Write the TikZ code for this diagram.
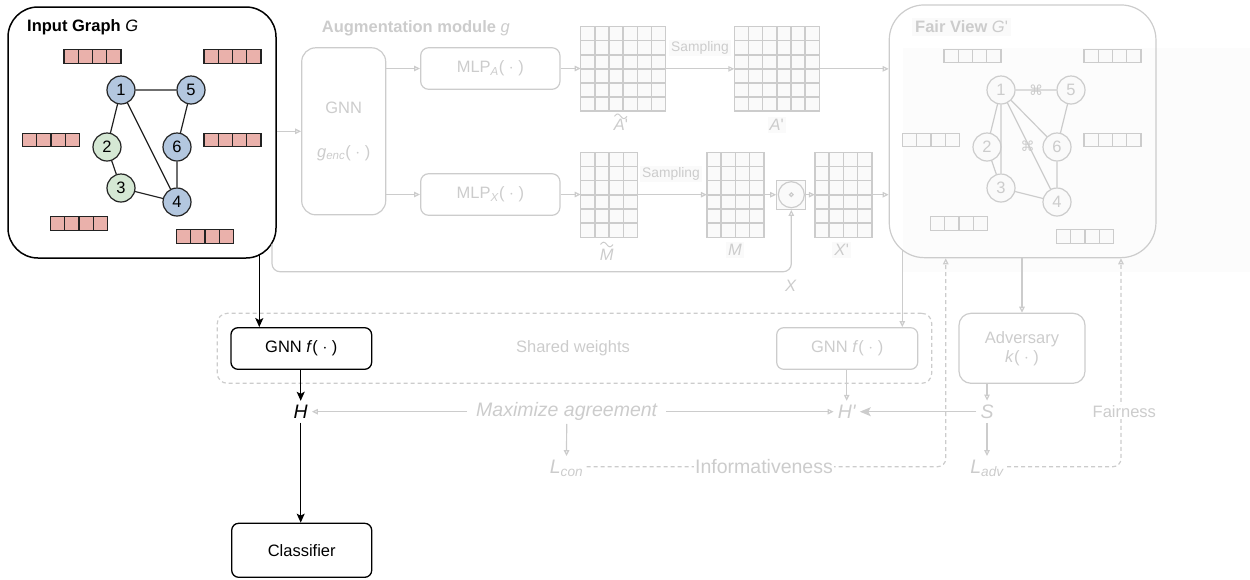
\documentclass[tikz,border=0pt]{standalone}
\usepackage{fontspec}
\setmainfont{Liberation Sans}
\newfontfamily\symfont{DejaVu Sans}
\usetikzlibrary{arrows.meta,calc}
\definecolor{fade}{HTML}{CCCCCC}
\definecolor{faint}{HTML}{FAFAFA}
\definecolor{faintbg}{HTML}{FCFCFC}
\definecolor{nodeblue}{HTML}{B3C7DF}
\definecolor{nodegreen}{HTML}{D5E8D4}
\definecolor{featred}{HTML}{EAB1AB}
\definecolor{ink}{HTML}{222222}
\newcommand\cellgrid[4]{%
  \foreach \k in {1,...,5}{%
    \ifnum\k<#2\relax \draw[#4] ($(#1.north west)!\k/#2!(#1.north east)$) -- ($(#1.south west)!\k/#2!(#1.south east)$);\fi
    \ifnum\k<#3\relax \draw[#4] ($(#1.north west)!\k/#3!(#1.south west)$) -- ($(#1.north east)!\k/#3!(#1.south east)$);\fi
  }}
\tikzset{
  fadeln/.style={draw=fade, line width=1.2pt},
  farr/.style={fadeln, -{Triangle[open, length=6pt, width=5.5pt]}},
  barr/.style={draw=black, line width=1.3pt, -{Stealth[length=9pt, width=8pt, inset=2pt]}},
  fdash/.style={fadeln, dash pattern=on 4pt off 3pt},
  fbox/.style={fadeln, rounded corners=8pt, text=fade, align=center, inner sep=0pt},
  bbox/.style={draw=black, line width=1.3pt, rounded corners=7pt, inner sep=0pt},
  matbox/.style={draw=fade, line width=1.5pt, fill=faint, inner sep=0pt, outer sep=0pt},
  matline/.style={draw=fade, line width=1.5pt},
  featbox/.style={draw=ink, line width=1.2pt, fill=featred, minimum width=57pt, minimum height=13.5pt, inner sep=0pt, outer sep=0pt},
  featline/.style={draw=ink, line width=1.2pt},
  ffeatbox/.style={featbox, draw=fade, fill=faint},
  ffeatline/.style={draw=fade, line width=1.2pt},
  gn/.style={circle, draw=ink, line width=1.2pt, minimum size=28pt, inner sep=0pt},
  fgn/.style={circle, draw=fade, line width=1.2pt, fill=faint, text=fade, minimum size=28pt, inner sep=0pt},
  gedge/.style={draw=ink, line width=1.2pt},
  fedge/.style={draw=fade, line width=1.2pt},
  big/.style={font=\fontsize{19.5}{22}\selectfont\itshape},
  small/.style={font=\fontsize{13.8}{16}\selectfont},
  ftxt/.style={text=fade, inner sep=2pt},
  cutmark/.style={text=fade, font=\symfont\fontsize{14}{14}\selectfont, inner sep=0pt},
}
\begin{document}
\begin{tikzpicture}[x=1pt, y=-1pt, font=\fontsize{16.5}{19}\selectfont]
\useasboundingbox (0,0) rectangle (1250,579);
\fill[faintbg] (903,47.7) rectangle (1250,271.7);

% ---------- Input graph ----------
\node[draw=black, line width=1.5pt, rounded corners=30pt, minimum width=268pt, minimum height=251pt, inner sep=0pt] (inG) at (142,132.5) {};
\node[anchor=west, inner sep=0pt] (inGt) at (27,27) {\textbf{Input Graph} \textit{G}};
\node[featbox] (b1) at (92.5,56.5) {}; \cellgrid{b1}{4}{1}{featline}
\node[featbox] (b2) at (232.5,56.5) {}; \cellgrid{b2}{4}{1}{featline}
\node[featbox] (b3) at (51,140) {}; \cellgrid{b3}{4}{1}{featline}
\node[featbox] (b4) at (232.5,140) {}; \cellgrid{b4}{4}{1}{featline}
\node[featbox] (b5) at (79,223.5) {}; \cellgrid{b5}{4}{1}{featline}
\node[featbox] (b6) at (205,236.5) {}; \cellgrid{b6}{4}{1}{featline}
\node[gn, fill=nodeblue] (n1) at (121,90) {1};
\node[gn, fill=nodeblue] (n5) at (191,90) {5};
\node[gn, fill=nodegreen] (n2) at (107,147) {2};
\node[gn, fill=nodeblue] (n6) at (177,147) {6};
\node[gn, fill=nodegreen] (n3) at (121,188) {3};
\node[gn, fill=nodeblue] (n4) at (177,202) {4};
\draw[gedge] (n1)--(n5) (n1)--(n2) (n1)--(n4) (n5)--(n6) (n6)--(n4) (n2)--(n3) (n3)--(n4);

% ---------- Augmentation module ----------
\node[anchor=west, text=fade, inner sep=0pt] (augt) at (321.7,28) {\textbf{Augmentation module} \textit{g}};
\node[fbox, rounded corners=14pt, minimum width=84pt, minimum height=167pt] (genc) at (343.7,131.3) {GNN\\[25pt]\textit{g}\textsubscript{\textit{enc}}( $\cdot$ )};
\node[fbox, minimum width=139.3pt, minimum height=41.6pt] (mlpa) at (490.3,68.5) {MLP\textsubscript{\textit{A}}( $\cdot$ )};
\node[fbox, minimum width=139.3pt, minimum height=41.6pt] (mlpx) at (490.3,194.5) {MLP\textsubscript{\textit{X}}( $\cdot$ )};

\node[matbox, minimum width=85pt, minimum height=84.5pt] (At) at (623.2,68.85) {}; \cellgrid{At}{6}{6}{matline}
\node[matbox, minimum width=85pt, minimum height=84.5pt] (Ap) at (776.8,68.85) {}; \cellgrid{Ap}{6}{6}{matline}
\node[matbox, minimum width=57pt, minimum height=85pt] (Mt) at (609.2,194.8) {}; \cellgrid{Mt}{4}{6}{matline}
\node[matbox, minimum width=57pt, minimum height=85pt] (Mm) at (735.3,194.8) {}; \cellgrid{Mm}{4}{6}{matline}
\node[matbox, minimum width=57pt, minimum height=85pt] (Xp) at (843.3,194.8) {}; \cellgrid{Xp}{4}{6}{matline}
\node[draw=fade, line width=1.2pt, fill=faint, minimum size=29pt, inner sep=0pt] (od) at (791.3,194.7) {};
\draw[fadeln] (od.center) circle[radius=13pt];
\draw[fadeln] (od.center) circle[radius=1.8pt];

\node[ftxt] (lAt) at (621,125) {\textit{A}\textquotesingle};
\draw[fade, line width=1pt] plot[domain=0:1, smooth, samples=13, variable=\t] ({614.5+12.5*\t},{116.3-2.3*sin(360*\t)});
\node[ftxt, fill=faint] (lAp) at (776.8,125) {\textit{A}\textquotesingle};
\node[ftxt] (lMt) at (606.7,255) {\textit{M}};
\draw[fade, line width=1pt] plot[domain=0:1, smooth, samples=13, variable=\t] ({600.5+12.5*\t},{244.5-2.3*sin(360*\t)});
\node[ftxt, fill=faint] (lM) at (735,250) {\textit{M}};
\node[ftxt, fill=faint] (lXp) at (841.7,250) {\textit{X}\textquotesingle};
\node[ftxt] (lX) at (791,286) {\textit{X}};
\node[ftxt, small, fill=faint] (s1) at (700,48) {Sampling};
\node[ftxt, small, fill=faint] (s2) at (671,174) {Sampling};

% ---------- Fair view ----------
\node[draw=fade, line width=1.2pt, rounded corners=35pt, minimum width=266.7pt, minimum height=252.7pt, inner sep=0pt] (fv) at (1022.6,131.3) {};
\node[anchor=west, text=fade, fill=faint, inner sep=3pt] (fvt) at (912,26.7) {\textbf{Fair View} \textit{G}\textquotesingle};
\node[ffeatbox] (c1) at (972.5,56) {}; \cellgrid{c1}{4}{1}{ffeatline}
\node[ffeatbox] (c2) at (1112.5,56) {}; \cellgrid{c2}{4}{1}{ffeatline}
\node[ffeatbox] (c3) at (931,140) {}; \cellgrid{c3}{4}{1}{ffeatline}
\node[ffeatbox] (c4) at (1112.5,140) {}; \cellgrid{c4}{4}{1}{ffeatline}
\node[ffeatbox] (c5) at (959,223.5) {}; \cellgrid{c5}{4}{1}{ffeatline}
\node[ffeatbox] (c6) at (1085,236.5) {}; \cellgrid{c6}{4}{1}{ffeatline}
\node[fgn] (f1) at (1001,90) {1};
\node[fgn] (f5) at (1071,90) {5};
\node[fgn] (f2) at (987,147) {2};
\node[fgn] (f6) at (1057,147) {6};
\node[fgn] (f3) at (1001,188) {3};
\node[fgn] (f4) at (1057,202) {4};
\draw[fedge] (f1)--(f5) (f1)--(f2) (f1)--(f3) (f1)--(f6) (f1)--(f4) (f5)--(f6) (f2)--(f3) (f6)--(f4) (f3)--(f4);
\node[cutmark] (k1) at ($(f1)!0.5!(f5)$) {⌘};
\node[cutmark] (k2) at (1027.5,146) {⌘};

% ---------- top connectors ----------
\draw[farr] (inG.east |- genc.west) -- (genc.west);
\draw[farr] (genc.east |- mlpa.west) -- (mlpa.west);
\draw[farr] (genc.east |- mlpx.west) -- (mlpx.west);
\draw[farr] (mlpa.east) -- (At.west |- mlpa.east);
\draw[farr] (mlpx.east) -- (Mt.west |- mlpx.east);
\draw[farr] (At.east) -- (Ap.west);
\draw[farr] (Mt.east |- od.west) -- (Mm.west |- od.west);
\draw[farr] (Mm.east |- od.west) -- (od.west);
\draw[farr] (od.east) -- (Xp.west |- od.east);
\draw[farr] (Ap.east) -- (Ap.east -| fv.west);
\draw[farr] (Xp.east |- od.east) -- (od.east -| fv.west);
\coordinate (xs) at (272,244);
\coordinate (xc1) at (272,271.7);
\coordinate (xc2) at (791.3,271.7);
\draw[farr, rounded corners=8pt] (xs) -- (xc1) -- (xc2) -- (od.south);

% ---------- bottom ----------
\node[fdash, rounded corners=10pt, minimum width=714.4pt, minimum height=70pt, inner sep=0pt] (shw) at (574.5,348.3) {};
\node[ftxt] (shwt) at (573,348) {Shared weights};
\node[bbox, minimum width=140.7pt, minimum height=41.6pt] (gnnl) at (301.3,348.5) {GNN \textit{f}( $\cdot$ )};
\node[fbox, rounded corners=7pt, minimum width=141pt, minimum height=41.6pt] (gnnr) at (847.2,348.5) {GNN \textit{f}( $\cdot$ )};
\node[fbox, rounded corners=12pt, minimum width=126pt, minimum height=70pt] (adv) at (1022,348.3) {Adversary\\\textit{k}( $\cdot$ )};
\node[bbox, minimum width=140pt, minimum height=54pt] (clf) at (301.7,550.3) {Classifier};
\node[big, inner sep=4pt] (H) at (300.7,411.7) {H};
\node[big, text=fade, inner sep=4pt] (Hp) at (846.7,411.7) {H\textquotesingle};
\node[big, text=fade, inner sep=4pt] (S) at (987,411.7) {S};
\node[big, text=fade, inner xsep=9pt, inner ysep=3pt] (mx) at (566.7,411.7) {Maximize agreement};
\node[big, text=fade, anchor=base] (lcon) at (566.5,473) {L\textsubscript{con}};
\node[big, text=fade, anchor=base] (ladv) at (987,473) {L\textsubscript{adv}};

\coordinate (gls) at (259.3,255);
\draw[barr] (gls) -- (gls |- gnnl.north);
\draw[barr] (gnnl.south -| H.north) -- (H.north);
\draw[barr] (H.south) -- (H.south |- clf.north);
\coordinate (fvl) at (902.3,250);
\draw[farr] (fvl) -- (fvl |- gnnr.north);
\draw[farr] (gnnr.south -| Hp.north) -- (Hp.north);
\draw[farr] (mx.west) -- (H.east);
\draw[farr] (mx.east) -- (Hp.west);
\draw[farr] (mx.south) -- (lcon.north);
\draw[farr] (fv.south -| adv.north) -- (adv.north);
\draw[farr] (adv.south -| S.north) -- (S.north);
\draw[farr] (S.south) -- (ladv.north);

\coordinate (ci) at (945.7,466.7);
\coordinate (cf) at (1121,466.7);
\draw[fdash, rounded corners=8pt, -{Triangle[open, length=6pt, width=5.5pt]}] (lcon.east |- ci) -- (ci) -- (ci |- fv.south);
\draw[fdash, rounded corners=8pt, -{Triangle[open, length=6pt, width=5.5pt]}] (ladv.east |- cf) -- (cf) -- (cf |- fv.south);
\draw[fadeln, -{Stealth[length=11pt, width=9pt, inset=2.5pt]}] (S.west) -- (Hp.east);
\node[text=fade, fill=white, anchor=base, font=\fontsize{19.5}{22}\selectfont, inner sep=1pt] (inf) at (764,473) {Informativeness};
\node[text=fade, fill=white, inner sep=1pt] (fair) at (1124.3,411.7) {Fairness};
\end{tikzpicture}
\end{document}
